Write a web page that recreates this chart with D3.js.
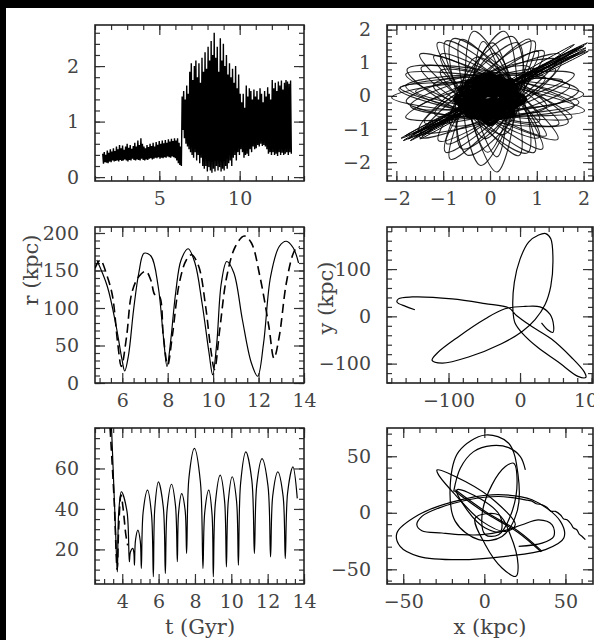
<!DOCTYPE html>
<html>
<head>
<meta charset="utf-8">
<script src="https://cdn.jsdelivr.net/npm/d3@7"></script>
<style>
  body { margin: 0; background: #fff; }
  svg { display: block; }
  .title { font-family: "DejaVu Serif", serif; fill: #444; }
</style>
</head>
<body>
<svg id="fig" width="594" height="640"></svg>
<script>
// ---- top-left: bar-frame amplitude vs t, sampled on a regular grid (high, then low half a step later)
const bandT0 = 1.48, bandDt = 0.095;
const bandHigh = [
  0.42,0.45,0.40,0.48,0.44,0.50,0.46,0.52,0.47,0.55,
  0.50,0.58,0.52,0.57,0.49,0.55,0.60,0.53,0.58,0.51,
  0.56,0.62,0.55,0.66,0.58,0.70,0.60,0.55,0.52,0.58,
  0.54,0.60,0.56,0.62,0.55,0.63,0.58,0.65,0.60,0.66,
  0.61,0.67,0.62,0.68,0.64,0.69,0.65,0.70,0.66,0.70,
  0.62,0.55,
  1.45,1.55,1.40,1.65,1.50,1.90,2.05,1.75,2.00,2.10,
  1.80,2.05,1.70,2.15,1.90,2.25,1.95,2.35,2.10,2.45,
  2.20,2.60,2.15,2.35,1.90,2.50,2.10,2.40,2.00,2.20,
  1.85,2.05,1.80,1.95,1.70,2.00,1.60,1.85,1.50,
  1.35,1.50,1.25,1.65,1.45,1.60,1.55,1.40,1.58,1.45,
  1.55,1.40,1.60,1.50,1.35,1.55,1.45,1.62,1.50,1.40,
  1.75,1.60,1.70,1.55,1.72,1.65,1.74,1.58,1.70,1.75,
  1.72,1.68,1.74
];
const bandLow = [
  0.24,0.27,0.26,0.25,0.28,0.27,0.30,0.28,0.29,0.30,
  0.28,0.31,0.29,0.30,0.32,0.30,0.28,0.31,0.30,0.33,
  0.31,0.30,0.32,0.31,0.30,0.33,0.31,0.30,0.32,0.31,
  0.33,0.34,0.32,0.33,0.35,0.34,0.36,0.33,0.35,0.34,
  0.36,0.35,0.37,0.36,0.35,0.37,0.36,0.34,0.30,0.25,
  0.22,0.20,
  0.85,0.70,0.60,0.55,0.50,0.45,0.40,0.35,0.45,0.30,
  0.40,0.25,0.35,0.20,0.15,0.20,0.10,0.18,0.12,0.08,
  0.15,0.10,0.20,0.12,0.18,0.10,0.15,0.12,0.20,0.15,
  0.25,0.30,0.20,0.35,0.40,0.30,0.45,0.40,0.50,
  0.45,0.35,0.40,0.42,0.38,0.50,0.45,0.55,0.50,0.52,
  0.58,0.55,0.60,0.56,0.58,0.55,0.50,0.42,0.45,0.40,
  0.45,0.40,0.42,0.38,0.45,0.40,0.44,0.40,0.42,0.45,
  0.40,0.45,0.42
];

// ---- top-right: rosette loops (each loop: 4 points, closed)
const rosetteLoops = [
  [[2.0,0.05],[0,0.5],[-2.1,-0.05],[0,-0.5]],
  [[1.8,0.65],[-0.2,0.5],[-1.8,-0.65],[0.2,-0.5]],
  [[1.5,1.25],[-0.32,0.38],[-1.5,-1.25],[0.32,-0.38]],
  [[0.95,1.65],[-0.43,0.25],[-0.95,-1.7],[0.43,-0.25]],
  [[0.3,1.95],[-0.55,0.1],[-0.2,-2.1],[0.55,-0.1]],
  [[-0.35,1.95],[-0.5,-0.09],[0.15,-2.3],[0.5,0.09]],
  [[-0.95,1.65],[-0.48,-0.27],[0.95,-1.7],[0.48,0.27]],
  [[-1.5,1.25],[-0.32,-0.38],[1.45,-1.3],[0.32,0.38]],
  [[-1.8,0.65],[-0.17,-0.47],[1.75,-0.65],[0.17,0.47]],
  [[1.7,0.3],[-0.1,0.6],[-1.7,-0.3],[0.1,-0.6]],
  [[1.15,1.35],[-0.38,0.32],[-1.1,-1.35],[0.38,-0.32]],
  [[0.6,1.6],[-0.56,0.21],[-0.6,-1.6],[0.56,-0.21]],
  [[-0.62,1.7],[-0.47,-0.17],[0.62,-1.8],[0.47,0.17]],
  [[-1.47,0.85],[-0.28,-0.48],[1.47,-0.85],[0.28,0.48]],
  [[-1.8,0.3],[-0.1,-0.6],[1.8,-0.3],[0.1,0.6]],
  [[1.4,0.8],[-0.25,0.43],[-1.4,-0.8],[0.25,-0.43]],
  [[-1.05,1.25],[-0.38,-0.32],[1.05,-1.25],[0.38,0.32]],
  [[0.05,1.6],[-0.45,0],[-0.05,-1.7],[0.45,0]],
  [[1.9,-0.2],[0.05,0.55],[-1.95,0.2],[-0.05,-0.55]],
  [[1.89,0.16],[-0.01,0.70],[-1.79,-0.16],[0.11,-0.70]],
  [[1.55,0.46],[-0.09,0.39],[-1.55,-0.36],[0.09,-0.29]],
  [[1.52,1.06],[-0.37,0.53],[-1.52,-1.06],[0.37,-0.53]],
  [[1.03,1.34],[-0.28,0.18],[-0.93,-1.44],[0.38,-0.28]],
  [[0.48,1.79],[-0.68,0.18],[-0.48,-1.79],[0.68,-0.18]],
  [[-0.15,1.64],[-0.35,-0.13],[0.15,-1.84],[0.35,-0.07]],
  [[-0.80,1.72],[-0.59,-0.27],[0.80,-1.72],[0.59,0.27]],
  [[-1.20,1.20],[-0.28,-0.28],[1.20,-1.20],[0.28,0.28]],
  [[-1.77,0.80],[-0.35,-0.63],[1.67,-0.80],[0.25,0.63]],
  [[-1.59,0.14],[-0.03,-0.40],[1.59,-0.14],[0.03,0.40]],
  [[1.18,0.55],[-0.21,0.45],[-1.18,-0.55],[0.21,-0.45]],
  [[0.11,1.29],[-0.50,0.04],[-0.11,-1.29],[0.50,-0.04]],
  [[-1.06,0.75],[-0.29,-0.41],[1.06,-0.75],[0.29,0.41]],
  [[0.85,0.85],[-0.42,0.42],[-0.85,-0.85],[0.42,-0.42]],
  [[-0.31,1.16],[-0.58,-0.16],[0.31,-1.16],[0.58,0.16]],
  [[-1.21,0.32],[-0.16,-0.58],[1.21,-0.32],[0.16,0.58]],
  [[2.02,-0.45],[0.13,0.34],[-1.92,0.25],[-0.03,-0.54]],
  [[0.85,1.71],[-0.41,0.09],[-0.85,-1.91],[0.41,-0.29]],
  [[-1.12,1.60],[-0.37,-0.26],[1.12,-1.60],[0.37,0.26]]
];
const barStreaks = [
  [[2.05,1.45],[-0.05,0.07],[-1.75,-1.3],[0.05,-0.07]],
  [[1.95,1.5],[-0.05,0.06],[-1.6,-1.25],[0.05,-0.06]],
  [[2.1,1.35],[-0.04,0.08],[-1.8,-1.2],[0.04,-0.08]],
  [[1.8,1.55],[-0.06,0.07],[-1.5,-1.3],[0.06,-0.07]],
  [[1.9,1.3],[-0.05,0.06],[-1.65,-1.15],[0.05,-0.06]],
  [[1.7,1.25],[-0.04,0.06],[-1.85,-1.35],[0.04,-0.06]],
  [[2.0,1.5],[-0.03,0.05],[-1.7,-1.35],[0.03,-0.05]],
  [[2.05,1.38],[-0.04,0.06],[-1.55,-1.1],[0.04,-0.06]],
  [[1.85,1.42],[-0.05,0.07],[-1.9,-1.28],[0.05,-0.07]],
  [[2.08,1.6],[-0.05,0.06],[-1.45,-1.2],[0.05,-0.06]]
];
const coreLoops = [
  [[0.75,-0.1],[0,0.25],[-0.75,-0.1],[0,-0.45]],
  [[0.49,0.39],[-0.25,0.15],[-0.49,-0.59],[0.25,-0.35]],
  [[0,0.65],[-0.35,-0.1],[0,-0.85],[0.35,-0.1]],
  [[-0.49,0.39],[-0.25,-0.35],[0.49,-0.59],[0.25,0.15]],
  [[0.62,-0.05],[-0.03,0.25],[-0.68,-0.05],[-0.03,-0.35]],
  [[0.57,0.20],[-0.145,0.227],[-0.63,-0.30],[0.085,-0.327]],
  [[0.43,0.41],[-0.24,0.16],[-0.49,-0.51],[0.18,-0.26]],
  [[0.22,0.55],[-0.31,0.07],[-0.28,-0.65],[0.25,-0.17]],
  [[-0.03,0.60],[-0.33,-0.05],[-0.03,-0.70],[0.27,-0.05]],
  [[-0.28,0.55],[-0.31,-0.17],[0.22,-0.65],[0.25,0.07]],
  [[-0.49,0.41],[-0.24,-0.26],[0.43,-0.51],[0.18,0.16]],
  [[-0.63,0.20],[-0.145,-0.327],[0.57,-0.30],[0.085,0.227]],
  [[0.30,-0.05],[-0.05,0.10],[-0.40,-0.05],[-0.05,-0.20]],
  [[0.125,0.253],[-0.18,0.025],[-0.225,-0.353],[0.08,-0.125]],
  [[-0.225,0.253],[-0.18,-0.125],[0.125,-0.353],[0.08,0.025]],
  [[0.45,0.05],[0.0,0.2],[-0.5,-0.15],[0.0,-0.3]],
  [[0.15,0.4],[-0.25,0.1],[-0.2,-0.5],[0.2,-0.2]],
  [[0.12,-0.04],[-0.06,0.02],[-0.18,-0.08],[-0.02,-0.14]]
];

// ---- middle-left: r (kpc) vs t (Gyr)
const rSolid = [
  [4.88,164],[5.34,129],[5.73,76],[5.99,31],[6.11,16],[6.27,36],[6.50,98],[6.73,147],
  [6.96,173],[7.27,169],[7.58,129],[7.81,62],[7.97,22],[8.12,53],[8.35,120],[8.59,164],
  [8.90,179],[9.20,160],[9.51,107],[9.82,40],[9.98,11],[10.16,53],[10.36,133],[10.60,162],
  [10.91,147],[11.29,84],[11.68,27],[11.96,9],[12.22,53],[12.53,142],[12.91,182],[13.22,189],
  [13.53,180],[13.76,160]
];
const rDashed = [
  [4.8,153],[5.03,164],[5.34,142],[5.57,116],[5.80,53],[5.96,22],[6.19,62],[6.42,120],
  [6.73,142],[7.04,149],[7.27,136],[7.43,118],[7.63,116],[7.81,62],[8.0,24],[8.2,62],
  [8.51,133],[8.82,164],[9.05,171],[9.36,156],[9.67,102],[9.90,44],[10.06,18],[10.29,71],
  [10.60,142],[10.98,182],[11.37,196],[11.68,187],[12.06,142],[12.45,76],[12.68,33],[12.91,62],
  [13.22,133],[13.53,173],[13.72,182],[13.81,181]
];

// ---- middle-right: orbit y vs x (kpc)
const orbitXY = [
  [-147,14],[-160,21],[-172,30],[-170,37],[-151,41],[-95,37],[-49,27],[-16,18],
  [-4.6,1.4],[16,-21],[44,-48],[72,-87],[90,-118],[92,-129],
  [81,-127],[53,-96],[25,-66],[4,-37],[-7,-14],
  [-10,15],[-8,72],[0,121],[12,157],[26,172],[36,175],[43,164],[46,121],[43,64],[35,25],[21,-7],[3,-32],
  [-26,-58],[-72,-86],[-109,-99],[-123,-93],
  [-116,-78],[-86,-43],[-49,-5.7],[-21,16],[7,21],[28,20],[42,4],[47,-21],[46,-34],[39,-29],[30,-14]
];

// ---- bottom-left: distance vs t (Gyr)
const distSolid = [
  [3.41,80],[3.62,32],[3.73,8.9],[3.80,37.4],[3.95,48.5],[4.26,38.8],[4.39,13.9],[4.45,18.7],
  [4.58,20.5],[4.64,18.2],[4.67,12.2],[4.73,24.7],[4.86,29.5],[4.99,24.2],[5.05,10.6],[5.15,38.5],
  [5.39,49.3],[5.61,37.3],[5.71,6.5],[5.79,40.3],[5.99,53.4],[6.26,40.7],[6.37,8.1],[6.47,39.9],
  [6.71,52.2],[6.93,41.5],[7.03,13.9],[7.10,38.2],[7.27,47.6],[7.46,39.3],[7.54,18],[7.67,55.4],
  [7.97,69.9],[8.30,53.3],[8.44,10.6],[8.54,38.5],[8.76,49.3],[8.94,37.3],[9.01,6.5],[9.12,42.6],
  [9.39,56.7],[9.63,44.0],[9.73,11.4],[9.83,43.4],[10.05,55.9],[10.29,43.7],[10.39,12.2],[10.51,52.5],
  [10.8,68.2],[11.13,54.1],[11.27,18],[11.40,51.8],[11.69,64.9],[12.02,51.3],[12.16,16.3],[12.28,46.5],
  [12.56,58.3],[12.85,46.3],[12.97,15.5],[13.10,48.1],[13.39,60.8],[13.63,45.2]
];
const distDashed = [
  [3.33,80],[3.55,45],[3.72,10],[3.80,30],[3.93,47],[4.05,40],[4.2,27],[4.3,22]
];

// ---- bottom-right: orbit pieces y vs x (kpc)
const orbitPieces = [
  { closed: true, pts: [[0.6,68.8],[15,61.5],[20.8,33.5],[20.2,1.2],[10.9,-20.9],[-3.5,-23.8],[-17.9,-7.6],[-21,24.7],[-15.8,54.1]] },
  { closed: false, pts: [[25.3,37.9],[22.2,49.7],[15,57.6],[4.7,59.4],[-6.6,54.1],[-14.8,39.4],[-18.9,18.8]] },
  { closed: true, pts: [[-29.2,37.9],[-11.7,27.6],[6.8,10],[19.1,-10.6],[13,-16.5],[-1.4,-7.6],[-17.9,15.9],[-28.2,33.5]] },
  { closed: false, pts: [[-17.9,20.3],[0.6,1.2],[21.2,-16.5],[35.6,-34.1]] },
  { closed: false, pts: [[-18.5,19.5],[0,0.4],[20.6,-17.2],[35,-34.6]] },
  { closed: true, pts: [[-53.9,-17.9],[-40.5,-1.8],[-20,9.4],[4.7,15.9],[29.4,11.5],[46.9,-7.6],[49,-22.4],[37.7,-32.6],[13,-38.5],[-15.8,-41.5],[-40.5,-38.5],[-51.9,-29.7]] },
  { closed: false, pts: [[62.3,-23.8],[60,-20.5],[58.5,-18.8],[57,-15],[55,-13.5],[53.5,-10],[51,-6.2],[49,-5.5],[47,-2],[43.8,1.2],[41,1.5],[38.5,4.8],[35.6,7.1],[32,8],[29,10.5],[25.3,11.5],[8.8,14.4],[-9.7,11.5],[-28.2,4.1],[-38.5,-3.2],[-41.6,-10.6],[-38.5,-15.9],[-26.1,-17.9],[-13.8,-19.4],[-1.4,-19.4],[10.9,-16.5],[23.3,-10.6],[33.5,-6.2],[41.8,-10.6],[42.8,-20.9],[35.6,-26.8],[21.2,-29.7]] },
  { closed: true, pts: [[-5.6,-4.7],[0.6,-28.2],[10.9,-48.8],[19.5,-56.2],[20.8,-45.9],[16,-19.4],[8.8,-1.8]] },
  { closed: true, pts: [[18.1,43.8],[20.2,27.6],[17.1,1.2],[8.8,-19.4],[0.6,-19.4],[-1.4,-1.8],[4.7,24.7],[13,40.9]] },
  { closed: true, pts: [[-16.9,20.3],[-1.4,11.5],[9.9,-3.2],[9.9,-16.5],[0.6,-13.5],[-10.7,2.6]] }
];

// ---- tick values
const tlXTicks = [5, 10], tlYTicks = [0, 1, 2];
const trXTicks = [-2, -1, 0, 1, 2], trYTicks = [-2, -1, 0, 1, 2];
const mlXTicks = [6, 8, 10, 12, 14], mlYTicks = [0, 50, 100, 150, 200];
const mrXTicks = [-100, 0, 100], mrYTicks = [-100, 0, 100];
const blXTicks = [4, 6, 8, 10, 12, 14], blYTicks = [20, 40, 60];
const brXTicks = [-50, 0, 50], brYTicks = [-50, 0, 50];

const svg = d3.select("#fig");
svg.append("rect").attr("width", 594).attr("height", 640).attr("fill", "#fff");
svg.append("rect").attr("width", 594).attr("height", 8).attr("fill", "#000");
svg.append("rect").attr("width", 6).attr("height", 640).attr("fill", "#000");
const defs = svg.append("defs");

function minorTicks(dom, step) {
  const lo = Math.ceil(dom[0] / step - 1e-9), hi = Math.floor(dom[1] / step + 1e-9);
  return d3.range(lo, hi + 1).map(k => +(k * step).toFixed(4));
}

function panel(p) {
  const x = d3.scaleLinear().domain(p.xd).range([p.left, p.left + p.w]);
  const y = d3.scaleLinear().domain(p.yd).range([p.top + p.h, p.top]);
  defs.append("clipPath").attr("id", "clip-" + p.name)
    .append("rect").attr("x", p.left).attr("y", p.top).attr("width", p.w).attr("height", p.h);

  const sides = [
    { make: d3.axisBottom, scale: x, tr: `translate(0,${p.top + p.h})`, major: p.xMajor, step: p.xMinor, lab: true, pad: 11 },
    { make: d3.axisTop, scale: x, tr: `translate(0,${p.top})`, major: p.xMajor, step: p.xMinor, lab: false, pad: 3 },
    { make: d3.axisLeft, scale: y, tr: `translate(${p.left},0)`, major: p.yMajor, step: p.yMinor, lab: true, pad: 16 },
    { make: d3.axisRight, scale: y, tr: `translate(${p.left + p.w},0)`, major: p.yMajor, step: p.yMinor, lab: false, pad: 3 }
  ];
  sides.forEach(s => {
    const gMinor = svg.append("g").attr("transform", s.tr)
      .call(s.make(s.scale).tickValues(minorTicks(s.scale.domain(), s.step))
        .tickSizeInner(-5).tickSizeOuter(0).tickFormat(""));
    const gMajor = svg.append("g").attr("transform", s.tr)
      .call(s.make(s.scale).tickValues(s.major)
        .tickSizeInner(-10).tickSizeOuter(0).tickPadding(s.pad)
        .tickFormat(s.lab ? d3.format("d") : ""));
    [gMinor, gMajor].forEach(g => {
      g.select(".domain").remove();
      g.attr("color", "#333").attr("font-family", "DejaVu Serif, serif").attr("font-size", 19);
      g.selectAll("line").attr("stroke-width", 1.2);
      g.selectAll("text").attr("fill", "#444");
    });
  });

  svg.append("rect").attr("x", p.left).attr("y", p.top).attr("width", p.w).attr("height", p.h)
    .attr("fill", "none").attr("stroke", "#222").attr("stroke-width", 1.6);

  const plot = svg.append("g").attr("clip-path", `url(#clip-${p.name})`);
  return { x, y, plot };
}

const L = 95, LW = 209, R = 387, RW = 206, H = 156;
const rows = [25, 227, 428];

// top-left
{
  const { x, y, plot } = panel({ name: "tl", left: L, top: rows[0], w: LW, h: H,
    xd: [1, 14], yd: [-0.07, 2.74], xMajor: tlXTicks, xMinor: 1, yMajor: tlYTicks, yMinor: 0.2 });
  const pts = [];
  bandHigh.forEach((v, i) => {
    pts.push([bandT0 + i * bandDt, v]);
    pts.push([bandT0 + i * bandDt + bandDt / 2, bandLow[i]]);
  });
  plot.append("path").datum(pts)
    .attr("d", d3.line().x(d => x(d[0])).y(d => y(d[1])))
    .attr("fill", "none").attr("stroke", "#000").attr("stroke-width", 1.4);
}

// top-right
{
  const { x, y, plot } = panel({ name: "tr", left: R, top: rows[0], w: RW, h: H,
    xd: [-2.2, 2.2], yd: [-2.57, 2.14], xMajor: trXTicks, xMinor: 0.2, yMajor: trYTicks, yMinor: 0.2 });
  const loop = d3.line().curve(d3.curveCatmullRomClosed.alpha(0.5)).x(d => x(d[0])).y(d => y(d[1]));
  plot.selectAll("path.petal").data(rosetteLoops).join("path").attr("class", "petal")
    .attr("d", loop).attr("fill", "none").attr("stroke", "#000").attr("stroke-width", 1.1).attr("stroke-opacity", 0.85);
  plot.selectAll("path.streak").data(barStreaks).join("path").attr("class", "streak")
    .attr("d", loop).attr("fill", "none").attr("stroke", "#000").attr("stroke-width", 1);
  plot.selectAll("path.core").data(coreLoops).join("path").attr("class", "core")
    .attr("d", loop).attr("fill", "none").attr("stroke", "#000").attr("stroke-width", 4.5);
}

// middle-left
{
  const { x, y, plot } = panel({ name: "ml", left: L, top: rows[1], w: LW, h: H,
    xd: [4.8, 14], yd: [0, 208], xMajor: mlXTicks, xMinor: 0.5, yMajor: mlYTicks, yMinor: 10 });
  const line = d3.line().curve(d3.curveCatmullRom.alpha(0.5)).x(d => x(d[0])).y(d => y(d[1]));
  plot.append("path").datum(rSolid).attr("d", line)
    .attr("fill", "none").attr("stroke", "#000").attr("stroke-width", 1.2);
  plot.append("path").datum(rDashed).attr("d", line)
    .attr("fill", "none").attr("stroke", "#000").attr("stroke-width", 1.6).attr("stroke-dasharray", "9,5");
}

// middle-right
{
  const { x, y, plot } = panel({ name: "mr", left: R, top: rows[1], w: RW, h: H,
    xd: [-186, 102], yd: [-141, 189], xMajor: mrXTicks, xMinor: 20, yMajor: mrYTicks, yMinor: 20 });
  plot.append("path").datum(orbitXY)
    .attr("d", d3.line().curve(d3.curveCatmullRom.alpha(0.5)).x(d => x(d[0])).y(d => y(d[1])))
    .attr("fill", "none").attr("stroke", "#000").attr("stroke-width", 1.2);
}

// bottom-left
{
  const { x, y, plot } = panel({ name: "bl", left: L, top: rows[2], w: LW, h: H,
    xd: [2.5, 14], yd: [2.9, 80], xMajor: blXTicks, xMinor: 0.5, yMajor: blYTicks, yMinor: 5 });
  const line = d3.line().curve(d3.curveCatmullRom.alpha(0.5)).x(d => x(d[0])).y(d => y(d[1]));
  plot.append("path").datum(distSolid).attr("d", line)
    .attr("fill", "none").attr("stroke", "#000").attr("stroke-width", 1.2);
  plot.append("path").datum(distDashed).attr("d", line)
    .attr("fill", "none").attr("stroke", "#000").attr("stroke-width", 1.6).attr("stroke-dasharray", "9,5");
}

// bottom-right
{
  const { x, y, plot } = panel({ name: "br", left: R, top: rows[2], w: RW, h: H,
    xd: [-60, 67], yd: [-63, 75], xMajor: brXTicks, xMinor: 10, yMajor: brYTicks, yMinor: 10 });
  const open = d3.line().curve(d3.curveCatmullRom.alpha(0.5)).x(d => x(d[0])).y(d => y(d[1]));
  const closed = d3.line().curve(d3.curveCatmullRomClosed.alpha(0.5)).x(d => x(d[0])).y(d => y(d[1]));
  plot.selectAll("path.piece").data(orbitPieces).join("path").attr("class", "piece")
    .attr("d", d => (d.closed ? closed : open)(d.pts))
    .attr("fill", "none").attr("stroke", "#000").attr("stroke-width", 1.2);
}

// axis titles
svg.append("text").attr("class", "title").attr("font-size", 21)
  .attr("transform", "translate(38,270) rotate(-90)").attr("text-anchor", "middle").text("r (kpc)");
svg.append("text").attr("class", "title").attr("font-size", 21)
  .attr("transform", "translate(333,298) rotate(-90)").attr("text-anchor", "middle").text("y (kpc)");
svg.append("text").attr("class", "title").attr("font-size", 21)
  .attr("x", 200).attr("y", 634).attr("text-anchor", "middle").text("t (Gyr)");
svg.append("text").attr("class", "title").attr("font-size", 21)
  .attr("x", 490).attr("y", 634).attr("text-anchor", "middle").text("x (kpc)");
</script>
</body>
</html>
